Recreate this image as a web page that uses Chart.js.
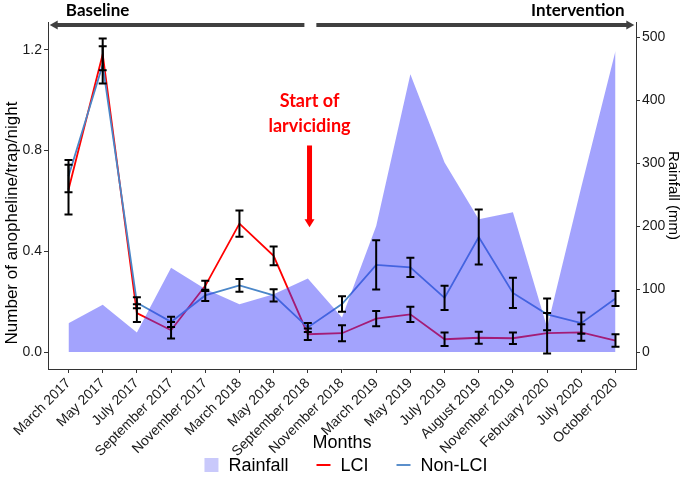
<!DOCTYPE html>
<html>
<head>
<meta charset="utf-8">
<script src="https://cdn.jsdelivr.net/npm/chart.js@4.4.0/dist/chart.umd.min.js"></script>
<style>
  html, body { margin: 0; padding: 0; background: #fff; }
  #wrap { width: 685px; height: 484px; }
</style>
</head>
<body>
<div id="wrap"><canvas id="chart" width="685" height="484"></canvas></div>
<script>
// data
const months = ['March 2017', 'May 2017', 'July 2017', 'September 2017', 'November 2017',
  'March 2018', 'May 2018', 'September 2018', 'November 2018', 'March 2019', 'May 2019',
  'July 2019', 'August 2019', 'November 2019', 'February 2020', 'July 2020', 'October 2020'];

const rainfall = [46, 75, 31, 134, 100, 76, 92, 117, 55, 200, 441, 301, 211, 222, 39, 262, 478];

const lciMean = [0.645, 1.182, 0.155, 0.087, 0.263, 0.51, 0.382, 0.071, 0.075, 0.133, 0.15,
  0.051, 0.057, 0.055, 0.075, 0.078, 0.046];
const lciSe = [0.099, 0.063, 0.035, 0.033, 0.02, 0.052, 0.037, 0.023, 0.032, 0.03, 0.03,
  0.027, 0.024, 0.023, 0.08, 0.033, 0.025];

const nonLciMean = [0.698, 1.14, 0.196, 0.12, 0.225, 0.265, 0.225, 0.098, 0.191, 0.346, 0.336,
  0.215, 0.457, 0.235, 0.15, 0.115, 0.213];
const nonLciSe = [0.064, 0.074, 0.022, 0.02, 0.022, 0.025, 0.024, 0.018, 0.031, 0.098, 0.038,
  0.048, 0.109, 0.06, 0.063, 0.042, 0.03];

const leftTicks = [0, 0.4, 0.8, 1.2];
const rightTicks = [0, 100, 200, 300, 400, 500];

const FONT = '"Liberation Sans", Arial, sans-serif';
const BOLD = 'Lato, "Open Sans", sans-serif';

// error bars go under the rainfall area, which is semi transparent
const errorBars = {
  id: 'errorBars',
  beforeDatasetDraw(chart, args) {
    if (args.index !== 0) return;
    const { ctx, scales: { x, y } } = chart;
    ctx.save();
    ctx.strokeStyle = '#000';
    ctx.lineWidth = 2;
    [[lciMean, lciSe], [nonLciMean, nonLciSe]].forEach(([m, s]) => {
      m.forEach((v, i) => {
        const px = x.getPixelForValue(i);
        const top = y.getPixelForValue(v + s[i]);
        const bot = y.getPixelForValue(v - s[i]);
        ctx.beginPath();
        ctx.moveTo(px, top); ctx.lineTo(px, bot);
        ctx.moveTo(px - 4, top); ctx.lineTo(px + 4, top);
        ctx.moveTo(px - 4, bot); ctx.lineTo(px + 4, bot);
        ctx.stroke();
      });
    });
    ctx.restore();
  }
};

function arrowHead(ctx, tipX, tipY, dx, dy, len, half) {
  // dx,dy = unit direction of the arrow
  ctx.beginPath();
  ctx.moveTo(tipX, tipY);
  ctx.lineTo(tipX - dx * len - dy * half, tipY - dy * len + dx * half);
  ctx.lineTo(tipX - dx * len + dy * half, tipY - dy * len - dx * half);
  ctx.closePath();
  ctx.fill();
}

// period arrows, larviciding note, left title and legend
const annotations = {
  id: 'annotations',
  afterDraw(chart) {
    const { ctx, scales: { x, y }, chartArea } = chart;
    ctx.save();

    // Baseline / Intervention
    const ay = chartArea.top + 3;
    ctx.strokeStyle = '#404040';
    ctx.fillStyle = '#404040';
    ctx.lineWidth = 4;
    const l0 = x.getPixelForValue(-0.55), l1 = x.getPixelForValue(6.9);
    const r0 = x.getPixelForValue(7.25), r1 = x.getPixelForValue(16.55);
    ctx.beginPath();
    ctx.moveTo(l0 + 6, ay); ctx.lineTo(l1, ay);
    ctx.moveTo(r0, ay); ctx.lineTo(r1 - 6, ay);
    ctx.stroke();
    arrowHead(ctx, l0, ay, -1, 0, 8, 4.5);
    arrowHead(ctx, r1, ay, 1, 0, 8, 4.5);

    ctx.fillStyle = '#000';
    ctx.font = 'bold 17px ' + BOLD;
    ctx.textAlign = 'center';
    ctx.textBaseline = 'middle';
    ctx.fillText('Baseline', x.getPixelForValue(0.85), 11);
    ctx.fillText('Intervention', x.getPixelForValue(14.9), 11);

    // Start of larviciding
    const sx = x.getPixelForValue(7.05);
    ctx.fillStyle = '#ff0000';
    ctx.font = 'bold 18px ' + BOLD;
    ctx.fillText('Start of', sx, y.getPixelForValue(0.996));
    ctx.fillText('larviciding', sx, y.getPixelForValue(0.897));
    const s0 = y.getPixelForValue(0.82), s1 = y.getPixelForValue(0.496);
    ctx.fillRect(sx - 2.5, s0, 5, s1 - s0 - 6);
    arrowHead(ctx, sx, s1, 0, 1, 8, 5);

    // left axis title sits low in the original
    ctx.save();
    ctx.translate(12, 223);
    ctx.rotate(-Math.PI / 2);
    ctx.fillStyle = '#000';
    ctx.font = '17px ' + FONT;
    ctx.fillText('Number of anopheline/trap/night', 0, 0);
    ctx.restore();

    // legend
    const items = [
      { text: 'Rainfall', kind: 'box', color: '#c9c9fb' },
      { text: 'LCI', kind: 'line', color: '#ff0000' },
      { text: 'Non-LCI', kind: 'line', color: '#5b8fcb' }
    ];
    ctx.font = '18px ' + FONT;
    ctx.textAlign = 'left';
    const sw = 14, gap = 10, between = 28;
    let total = 0;
    items.forEach((it, i) => {
      it.w = ctx.measureText(it.text).width;
      total += sw + gap + it.w + (i ? between : 0);
    });
    let lx = 346 - total / 2;
    const ly = 465;
    items.forEach(it => {
      if (it.kind === 'box') {
        ctx.fillStyle = it.color;
        ctx.fillRect(lx, ly - 7, sw, sw);
      } else {
        ctx.strokeStyle = it.color;
        ctx.lineWidth = 2;
        ctx.beginPath();
        ctx.moveTo(lx, ly); ctx.lineTo(lx + sw, ly);
        ctx.stroke();
      }
      ctx.fillStyle = '#000';
      ctx.fillText(it.text, lx + sw + gap, ly + 1);
      lx += sw + gap + it.w + between;
    });

    ctx.restore();
  }
};

const toPoints = arr => arr.map((v, i) => ({ x: i, y: v }));

new Chart(document.getElementById('chart'), {
  type: 'line',
  data: {
    datasets: [
      {
        label: 'Rainfall',
        data: toPoints(rainfall),
        yAxisID: 'y1',
        order: 0,
        fill: 'origin',
        backgroundColor: 'rgba(60, 60, 250, 0.47)',
        borderWidth: 0,
        pointRadius: 0,
        tension: 0
      },
      {
        label: 'LCI',
        data: toPoints(lciMean),
        yAxisID: 'y',
        order: 2,
        borderColor: '#ff0000',
        borderWidth: 1.8,
        pointRadius: 0,
        fill: false
      },
      {
        label: 'Non-LCI',
        data: toPoints(nonLciMean),
        yAxisID: 'y',
        order: 1,
        borderColor: '#4a86c8',
        borderWidth: 1.8,
        pointRadius: 0,
        fill: false
      }
    ]
  },
  options: {
    responsive: false,
    animation: false,
    devicePixelRatio: 1,
    layout: { padding: { top: 22, left: 0, right: 0, bottom: 0 } },
    plugins: {
      legend: { display: false },
      tooltip: { enabled: false }
    },
    scales: {
      x: {
        type: 'linear',
        min: -0.6,
        max: 16.6,
        afterBuildTicks: s => { s.ticks = months.map((_, i) => ({ value: i })); },
        afterFit: s => { s.height = 115; },
        ticks: {
          autoSkip: false,
          minRotation: 45,
          maxRotation: 45,
          padding: 2,
          color: '#1a1a1a',
          font: { family: FONT, size: 14 },
          callback: v => months[v]
        },
        grid: { drawOnChartArea: false, tickLength: 4, color: '#333' },
        border: { color: '#333', width: 1 },
        title: {
          display: true,
          text: 'Months',
          color: '#000',
          font: { family: FONT, size: 18 },
          padding: { top: 30, bottom: 30 }
        }
      },
      y: {
        position: 'left',
        min: -0.067,
        max: 1.31,
        afterBuildTicks: s => { s.ticks = leftTicks.map(v => ({ value: v })); },
        afterFit: s => { s.width = 48; },
        ticks: {
          padding: 2,
          color: '#1a1a1a',
          font: { family: FONT, size: 14 },
          callback: v => v.toFixed(1)
        },
        grid: { drawOnChartArea: false, tickLength: 4, color: '#333' },
        border: { color: '#333', width: 1 }
      },
      y1: {
        position: 'right',
        min: -26.8,
        max: 524,
        afterBuildTicks: s => { s.ticks = rightTicks.map(v => ({ value: v })); },
        afterFit: s => { s.width = 49; },
        ticks: {
          padding: 2,
          color: '#1a1a1a',
          font: { family: FONT, size: 14 }
        },
        grid: { drawOnChartArea: false, tickLength: 4, color: '#333' },
        border: { color: '#333', width: 1 },
        title: {
          display: true,
          text: 'Rainfall (mm)',
          color: '#000',
          font: { family: FONT, size: 15 },
          padding: { top: 3, bottom: 3 }
        }
      }
    }
  },
  plugins: [errorBars, annotations]
});
</script>
</body>
</html>
